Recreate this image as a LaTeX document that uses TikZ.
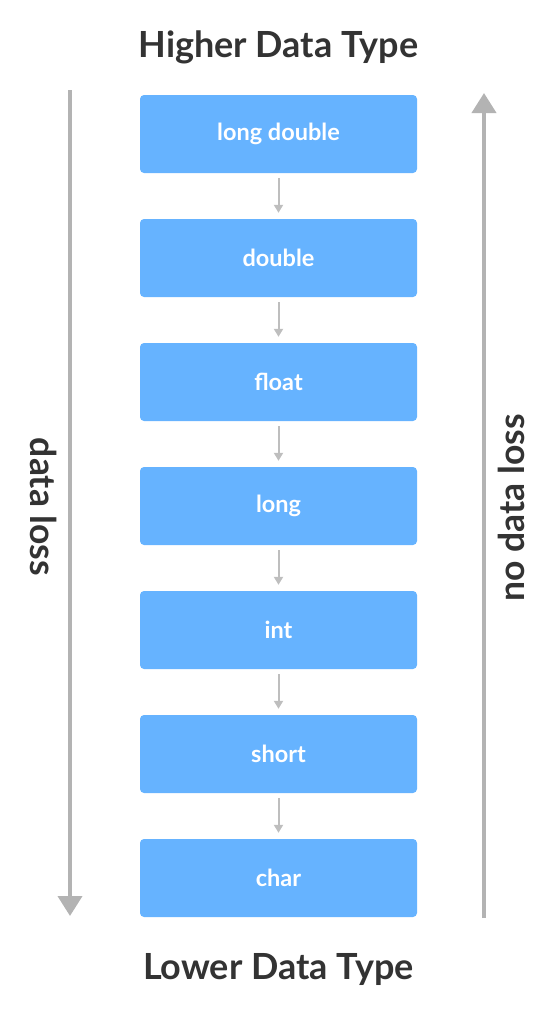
\documentclass[tikz,border=0pt]{standalone}
\usepackage{fontspec}
\setmainfont{Lato}
\usetikzlibrary{arrows.meta,positioning}
\definecolor{boxblue}{HTML}{66B3FF}
\definecolor{arrgray}{HTML}{B3B3B3}
\definecolor{txtdark}{HTML}{333333}

\begin{document}
\begin{tikzpicture}[x=1pt, y=-1pt,
    typebox/.style={fill=boxblue, rounded corners=4pt,
                    minimum width=277pt, minimum height=78pt,
                    text=white, font=\fontsize{23.5}{28}\selectfont\bfseries},
    heading/.style={text=txtdark, font=\fontsize{36}{42}\selectfont\bfseries},
    side/.style={text=txtdark, font=\fontsize{35.5}{42}\selectfont\bfseries},
    small/.style={-{Triangle[width=9pt,length=8pt]}, line width=2pt, arrgray!85,
                  shorten <=5pt, shorten >=6pt},
    big/.style={-{Triangle[width=24pt,length=20pt]}, line width=4pt, arrgray}
  ]
  \useasboundingbox (0,0) rectangle (555,1013);
  % Type boxes
  \foreach \lbl/\nm [count=\i] in {long double/ld, double/dbl, float/flt,
      long/lng, int/int, short/sht, char/chr} {
    \node[typebox] (\nm) at (278.5, {134+124*(\i-1)}) {\lbl};
  }
  \foreach \a/\b in {ld/dbl, dbl/flt, flt/lng, lng/int, int/sht, sht/chr}
    \draw[small] (\a.south) -- (\b.north);
  % Headings
  \node[heading] (hi) at (278.5, 47) {Higher Data Type};
  \node[heading] (lo) at (278.5, 969) {Lower Data Type};
  % Side arrows
  \coordinate (ltop) at (70, 90);
  \coordinate (lbot) at (70, 916);
  \coordinate (rtop) at (484, 93);
  \coordinate (rbot) at (484, 918);
  \draw[big] (ltop) -- (lbot);
  \draw[big] (rbot) -- (rtop);
  \node[side, rotate=-90] (loss) at (44, 507) {data loss};
  \node[side, rotate=90] (noloss) at (511, 508) {no data loss};
\end{tikzpicture}
\end{document}
